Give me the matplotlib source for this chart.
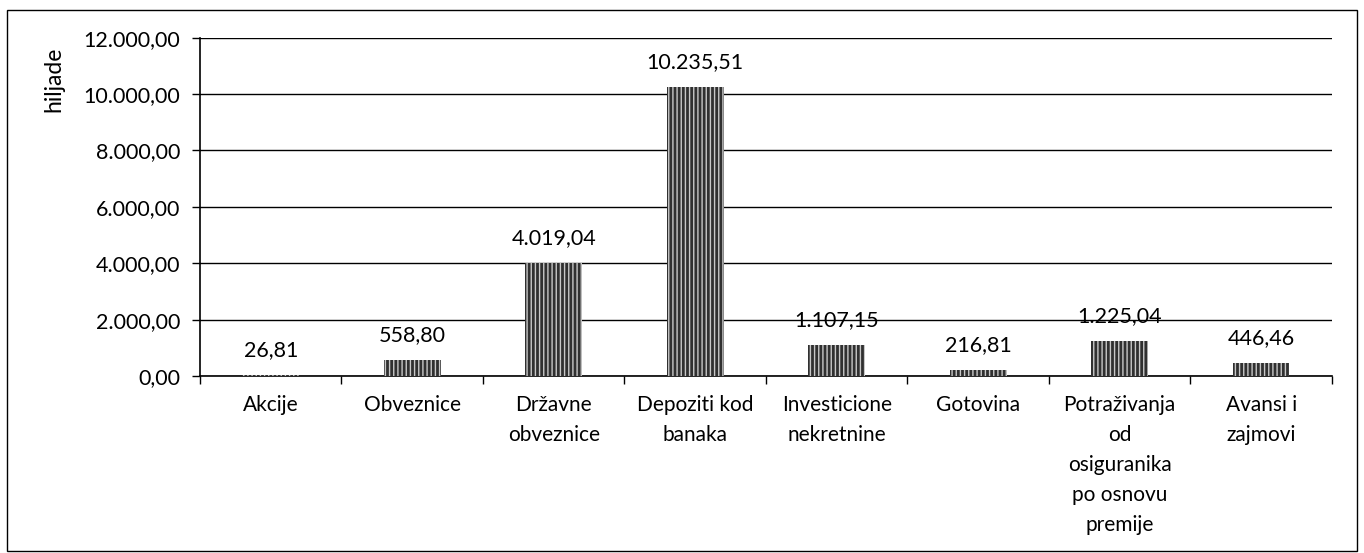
import matplotlib
matplotlib.use("Agg")
import matplotlib.pyplot as plt
from matplotlib.patches import Rectangle
from matplotlib.ticker import FuncFormatter

categories = ["Akcije", "Obveznice", "Državne\nobveznice", "Depoziti kod\nbanaka",
              "Investicione\nnekretnine", "Gotovina",
              "Potraživanja\nod\nosiguranika\npo osnovu\npremije", "Avansi i\nzajmovi"]
values = [26.81, 558.80, 4019.04, 10235.51, 1107.15, 216.81, 1225.04, 446.46]
y_ticks = [0, 2000, 4000, 6000, 8000, 10000, 12000]
y_label = "hiljade"


def fmt(v, pos=None):
    s = f"{v:,.2f}"
    return s.replace(",", "X").replace(".", ",").replace("X", ".")


plt.rcParams['font.family'] = ['Lato', 'DejaVu Sans']
plt.rcParams['hatch.color'] = '#c8c8c8'
plt.rcParams['hatch.linewidth'] = 1.0

fig = plt.figure(figsize=(13.64, 5.53), dpi=100)
ax = fig.add_axes([0.1466, 0.320, 0.8299, 0.612])

x = list(range(len(categories)))
bars = ax.bar(x, values, width=0.4, color='#303030', hatch='||||', linewidth=0, zorder=3)

for xi, v in zip(x, values):
    ax.annotate(fmt(v), (xi, v), xytext=(0, 18), textcoords='offset points',
                ha='center', va='center', fontsize=15.5, zorder=4)

ax.set_xlim(-0.5, len(categories) - 0.5)
ax.set_ylim(0, 12000)
ax.set_yticks(y_ticks)
ax.yaxis.set_major_formatter(FuncFormatter(fmt))
ax.grid(axis='y', color='black', linewidth=1.0, zorder=1)
ax.set_axisbelow(True)

ax.set_xticks(x)
ax.set_xticklabels(categories, fontsize=15, linespacing=1.62)
ax.tick_params(axis='x', length=0, pad=14)
ax.set_xticks([i + 0.5 for i in range(-1, len(categories))], minor=True)
ax.tick_params(axis='x', which='minor', length=6, width=1.0, color='black', direction='out')
ax.tick_params(axis='y', length=6, width=1.0, labelsize=15.5, pad=8)

for side in ('top', 'right'):
    ax.spines[side].set_visible(False)
ax.spines['left'].set_linewidth(1.2)
ax.spines['bottom'].set_linewidth(1.2)

ax.set_ylabel(y_label, fontsize=16.5)
ax.yaxis.set_label_coords(-0.12, 0.876)

fig.patches.append(Rectangle((0.005, 0.004), 0.99, 0.978, transform=fig.transFigure,
                             fill=False, edgecolor='black', linewidth=1.0))

fig.savefig("out.png", dpi=100)
